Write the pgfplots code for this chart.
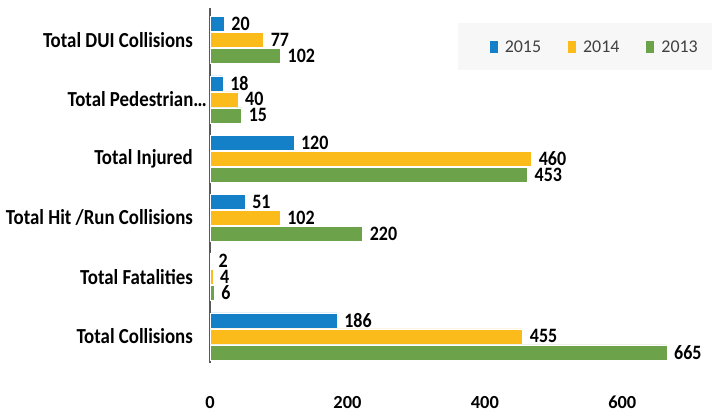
\documentclass[border=0pt]{standalone}
\usepackage{pgfplots}
\pgfplotsset{compat=1.18}
\usepackage{pgfplotstable}
\usepackage{fontspec}
\setmainfont{Carlito}
\newfontfamily\condfont{Carlito}[FakeStretch=0.88]
\definecolor{c15}{HTML}{1380C7}
\definecolor{c14}{HTML}{FBBB1B}
\definecolor{c13}{HTML}{6CA34A}
\definecolor{legbg}{HTML}{F7F7F7}
\definecolor{axgray}{HTML}{595959}
\definecolor{legtext}{HTML}{404040}

\pgfplotstableread{
c v l
5 20.6 20
4 19 18
3 122 120
2 51 51
1 2 2
0 185 186
}\tabA
\pgfplotstableread{
c v l
5 78 77
4 40.7 40
3 468 460
2 102 102
1 4 4
0 455 455
}\tabB
\pgfplotstableread{
c v l
5 102.5 102
4 46 15
3 462 453
2 222 220
1 6 6
0 665 665
}\tabC

\begin{document}
\begin{tikzpicture}[x=1bp,y=1bp]
\useasboundingbox (0,0) rectangle (712,-415);
\fill[legbg] (458,-23) rectangle (712,-70);
\begin{axis}[
  at={(210bp,-363bp)}, anchor=south west,
  scale only axis, width=481bp, height=355bp,
  xmin=0, xmax=700, ymin=-0.45, ymax=5.54,
  xbar, bar width=15bp, clip=false,
  axis x line*=bottom, x axis line style={draw=none},
  axis y line*=left, y axis line style={draw=axgray, line width=1.5bp},
  major tick length=0pt,
  xtick={0,200,400,600},
  ytick={0,1,2,3,4,5},
  yticklabels={Total Collisions, Total Fatalities, Total Hit /Run Collisions, Total Injured, {Total Pedestrian…\kern-14bp}, Total DUI Collisions},
  /pgf/number format/assume math mode=true,
  xticklabel style={font=\bfseries\fontsize{18.5}{20}\selectfont, text=black, inner ysep=0pt, anchor=north, yshift=-33bp},
  yticklabel style={font=\condfont\bfseries\fontsize{21.5}{23}\selectfont, text=black, inner xsep=0pt, anchor=east, xshift=-17bp},
  nodes near coords={\pgfplotspointmeta},
  point meta=explicit symbolic,
  nodes near coords style={font=\condfont\bfseries\fontsize{20.5}{22}\selectfont, text=black, anchor=west, inner xsep=0pt, inner ysep=0.5bp, xshift=7bp},
  legend columns=3,
  legend style={at={(axis description cs:0.575,0.89)}, anchor=west, draw=none, fill=none,
    font=\fontsize{18}{20}\selectfont, text=legtext,
    /tikz/every odd column/.append style={column sep=5bp},
    /tikz/every even column/.append style={column sep=25bp}},
  legend image code/.code={\fill[#1,draw=none] (0bp,-6bp) rectangle (8bp,6bp);},
]
\addplot[fill=c15, draw=white, line width=0.5bp, bar shift=16bp] table[x=v, y=c, meta=l] {\tabA};
\addplot[fill=c14, draw=white, line width=0.5bp, bar shift=0bp] table[x=v, y=c, meta=l] {\tabB};
\addplot[fill=c13, draw=white, line width=0.5bp, bar shift=-16bp] table[x=v, y=c, meta=l] {\tabC};
\legend{2015,2014,2013}
\end{axis}
\end{tikzpicture}
\end{document}
